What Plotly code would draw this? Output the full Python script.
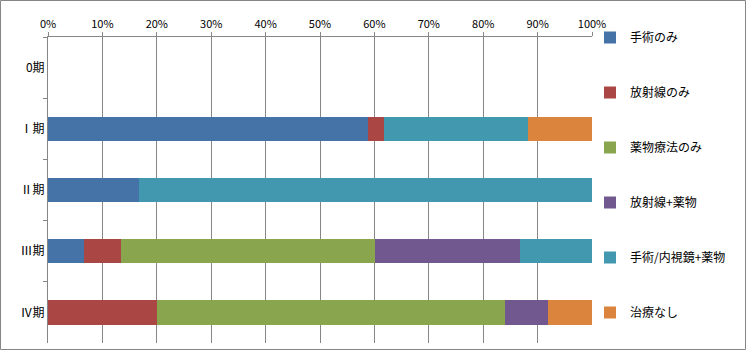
import plotly.graph_objects as go

categories = ["0期", "Ⅰ期", "Ⅱ期", "Ⅲ期", "Ⅳ期"]
series_names = ["手術のみ", "放射線のみ", "薬物療法のみ", "放射線+薬物", "手術/内視鏡+薬物", "治療なし"]
# percentages per stage
s_surgery = [0, 58.8, 16.7, 6.7, 0]
s_radiation = [0, 2.9, 0, 6.7, 20.0]
s_drug = [0, 0, 0, 46.7, 64.0]
s_rad_drug = [0, 0, 0, 26.7, 8.0]
s_surg_endo_drug = [0, 26.5, 83.3, 13.3, 0]
s_none = [0, 11.8, 0, 0, 8.0]
colors = ["#4572A7", "#AA4643", "#89A54E", "#71588F", "#4198AF", "#DB843D"]
tick_vals = [0, 10, 20, 30, 40, 50, 60, 70, 80, 90, 100]
tick_text = ["0%", "10%", "20%", "30%", "40%", "50%", "60%", "70%", "80%", "90%", "100%"]

all_series = [s_surgery, s_radiation, s_drug, s_rad_drug, s_surg_endo_drug, s_none]
FONT = "Noto Sans CJK JP, Noto Sans, sans-serif"

fig = go.Figure()
for i, (name, vals, col) in enumerate(zip(series_names, all_series, colors)):
    fig.add_trace(go.Bar(
        y=categories, x=vals, name=name, orientation="h",
        marker=dict(color=col, line=dict(width=0)),
        legendgroup=f"g{i}",
    ))

W, H = 747, 350
ml, mr, mt, mb = 48, 155, 37, 7
pw, ph = W - ml - mr, H - mt - mb
fig.update_layout(
    width=W, height=H,
    margin=dict(l=ml, r=mr, t=mt, b=mb, autoexpand=False),
    barmode="stack", bargap=0.6,
    plot_bgcolor="white", paper_bgcolor="white",
    font=dict(family=FONT, size=11, color="#000000"),
    legend=dict(
        x=(590 - ml) / pw, y=1 + (mt - 23) / ph, xanchor="left", yanchor="top",
        traceorder="grouped", tracegroupgap=36,
        font=dict(size=12), itemwidth=30,
        bgcolor="rgba(0,0,0,0)", maxheight=1,
    ),
    xaxis=dict(
        side="top", range=[0, 100], tickvals=tick_vals, ticktext=tick_text,
        showgrid=True, gridcolor="#868686", gridwidth=1,
        showline=True, linecolor="#868686", linewidth=1,
        ticks="outside", ticklen=4, tickcolor="#868686",
        zeroline=False, tickfont=dict(size=11),
    ),
    yaxis=dict(
        categoryorder="array", categoryarray=categories, autorange="reversed",
        showgrid=False, showline=True, linecolor="#868686", linewidth=1,
        ticks="outside", ticklen=4, tickcolor="#868686", tickson="boundaries",
        tickfont=dict(size=12), zeroline=False,
    ),
    shapes=[dict(
        type="rect", xref="paper", yref="paper",
        x0=-(ml - 0.5) / pw, x1=1 + (mr - 1.5) / pw,
        y0=-(mb - 0.5) / ph, y1=1 + (mt - 0.5) / ph,
        line=dict(color="#868686", width=1), layer="below",
    )],
)

fig.write_html("out.html")
